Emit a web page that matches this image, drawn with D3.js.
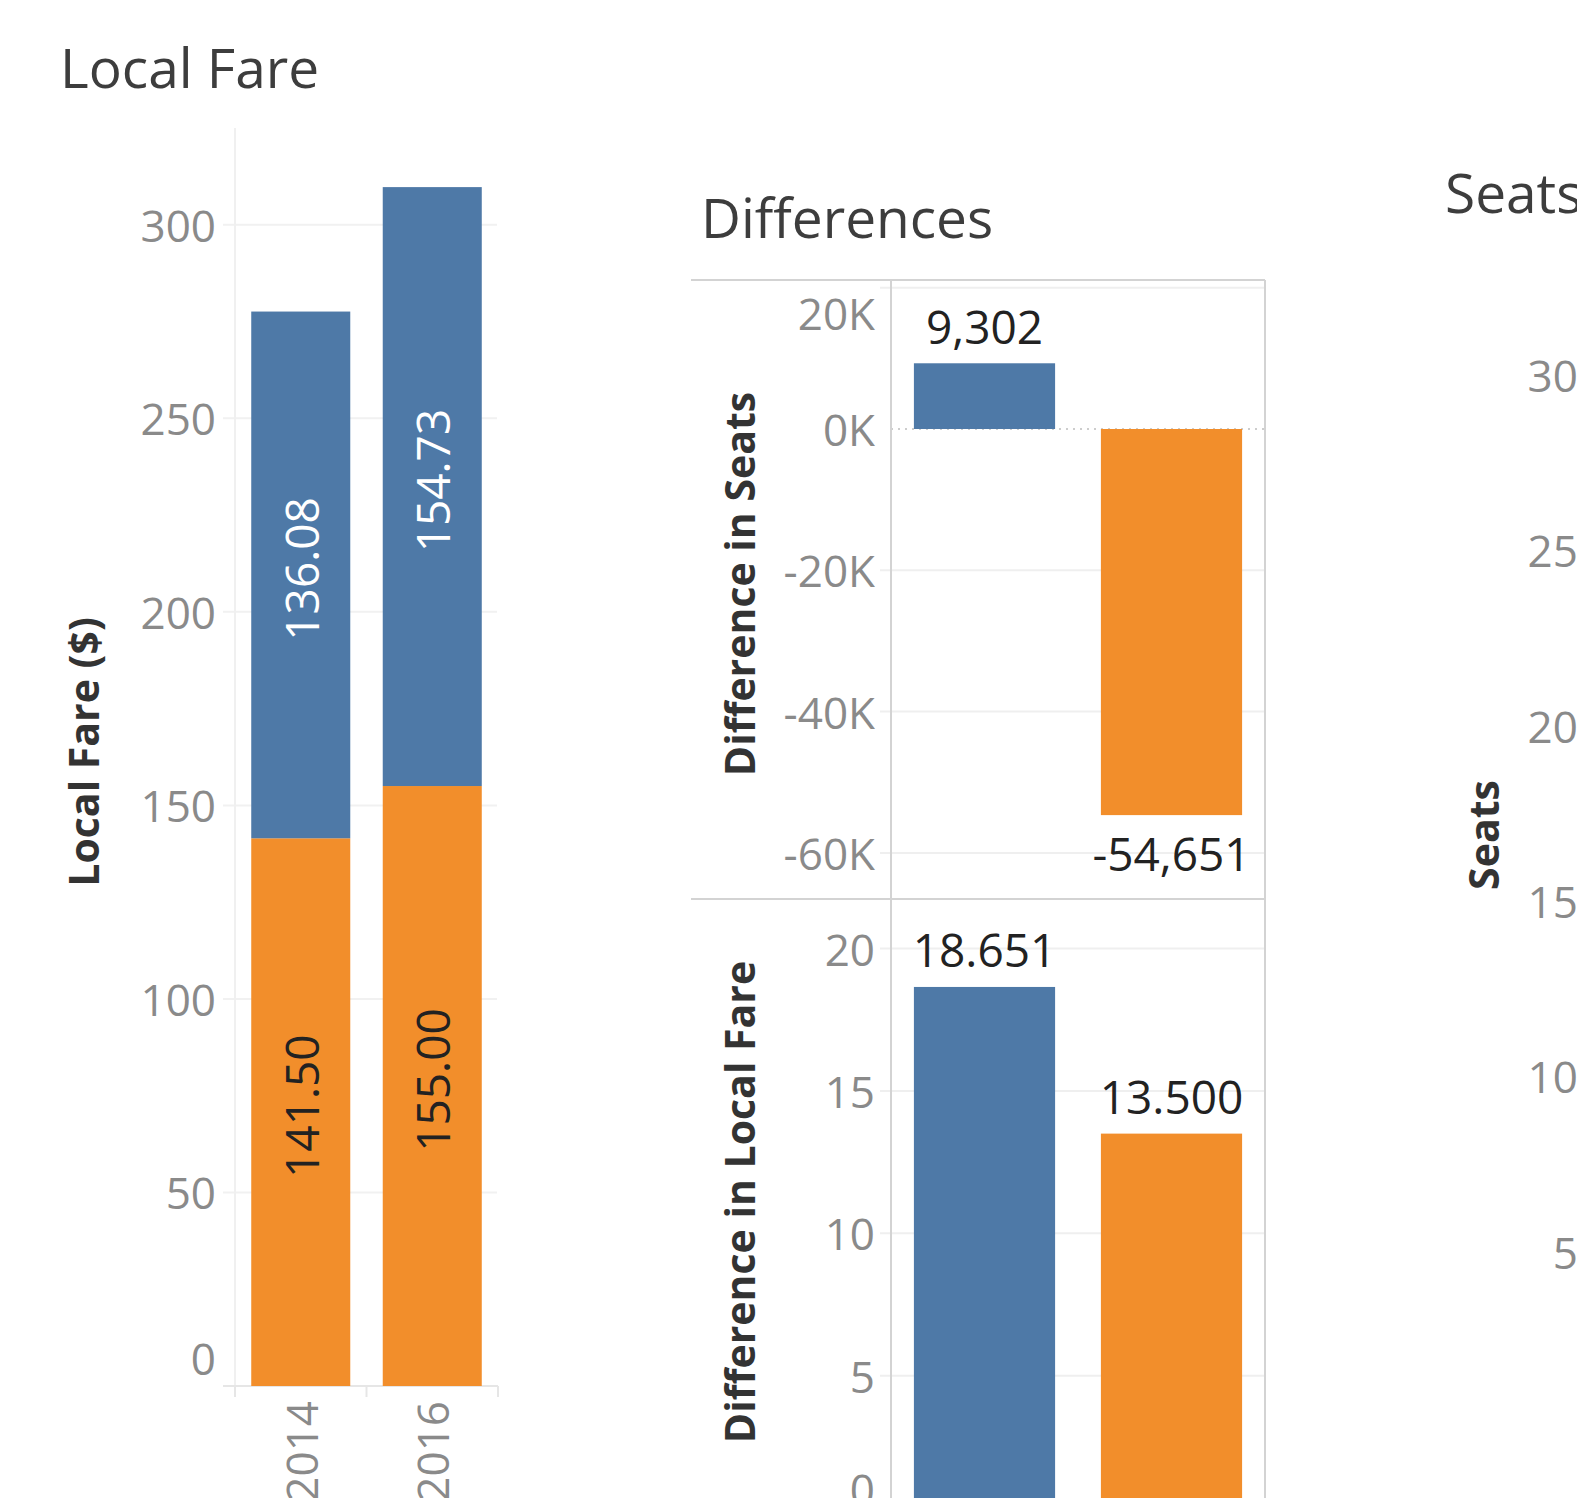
<!DOCTYPE html>
<html>
<head>
<meta charset="utf-8">
<script src="https://cdn.jsdelivr.net/npm/d3@7"></script>
<style>
  body { margin: 0; background: #fff; }
  svg { display: block; font-family: 'Open Sans', sans-serif; }
</style>
</head>
<body>
<div class="chart"></div>
<script>
// data
const years = ['2014', '2016']
const groups = ['orange', 'blue'] // stacked bottom -> top
const fareOrange = [141.5, 155.0]
const fareBlue = [136.08, 154.73]
const fareTicks = [0, 50, 100, 150, 200, 250, 300]

const diffGroups = ['blue', 'orange']
const seatDiff = [9302, -54651]
const fareDiff = [18.651, 13.5]
const seatDiffTicks = [20000, 0, -20000, -40000, -60000]
const fareDiffTicks = [0, 5, 10, 15, 20]

const seatTicks = [50, 100, 150, 200, 250, 300]

const colors = { blue: '#4e79a7', orange: '#f28e2b' }

const locale = d3.formatLocale({ decimal: '.', thousands: ',', grouping: [3], currency: ['$', ''], minus: '-' })
const fmtComma = locale.format(',')
const fmtK = d => locale.format('d')(d / 1000) + 'K'

const width = 1577
const height = 1498
const tickSize = 44
const labelSize = 46

const svg = d3
  .select('.chart')
  .append('svg')
  .attr('width', width)
  .attr('height', height)

const titleText = (x, y, t) =>
  svg
    .append('text')
    .attr('x', x)
    .attr('y', y)
    .attr('font-size', 55)
    .attr('fill', '#3d3d3d')
    .text(t)

const axisTitle = (x, y, t) =>
  svg
    .append('text')
    .attr('transform', `translate(${x},${y}) rotate(-90)`)
    .attr('text-anchor', 'middle')
    .attr('dominant-baseline', 'central')
    .attr('font-size', 41)
    .attr('font-weight', 'bold')
    .attr('fill', '#333')
    .text(t)

// tick labels, pulled inside the pane at its edges like tableau does
const tickLabels = (ticks, y, x, lo, hi, fmt) =>
  svg
    .append('g')
    .selectAll('text')
    .data(ticks)
    .enter()
    .append('text')
    .attr('x', x)
    .attr('y', d => Math.min(hi, Math.max(lo, y(d))))
    .attr('text-anchor', 'end')
    .attr('dominant-baseline', 'central')
    .attr('font-size', tickSize)
    .attr('fill', '#8a8a8a')
    .text(fmt)

const gridLines = (ticks, y, x0, x1, color) =>
  svg
    .append('g')
    .selectAll('line')
    .data(ticks)
    .enter()
    .append('line')
    .attr('x1', x0)
    .attr('x2', x1)
    .attr('y1', d => y(d))
    .attr('y2', d => y(d))
    .attr('stroke', color)
    .attr('stroke-width', 2)

// ---------------- Local Fare ----------------
titleText(60, 88, 'Local Fare')

const x1 = d3.scaleBand().domain(years).range([235, 498]).paddingInner(0.247).paddingOuter(0.1235)
const y1 = d3.scaleLinear().domain([0, 325]).range([1386, 128])

gridLines(fareTicks.filter(d => d > 0), y1, 223, 497, '#f1f1f1')

svg.append('line').attr('x1', 235).attr('x2', 235).attr('y1', 128).attr('y2', 1397)
  .attr('stroke', '#f0f0f0').attr('stroke-width', 2)
svg.append('line').attr('x1', 223).attr('x2', 498).attr('y1', y1(0)).attr('y2', y1(0))
  .attr('stroke', '#e6e6e6').attr('stroke-width', 2)
svg
  .append('g')
  .selectAll('line')
  .data([235, 366.5, 498])
  .enter()
  .append('line')
  .attr('x1', d => d)
  .attr('x2', d => d)
  .attr('y1', y1(0))
  .attr('y2', 1397)
  .attr('stroke', '#e6e6e6')
  .attr('stroke-width', 2)

tickLabels(fareTicks, y1, 216, 0, 1358, d => d)

const fareTable = years.map((yr, i) => ({ year: yr, orange: fareOrange[i], blue: fareBlue[i] }))
const stacked = d3.stack().keys(groups)(fareTable)

const layer = svg
  .append('g')
  .selectAll('g')
  .data(stacked)
  .enter()
  .append('g')
  .attr('fill', d => colors[d.key])

layer
  .selectAll('rect')
  .data(d => d)
  .enter()
  .append('rect')
  .attr('x', d => x1(d.data.year))
  .attr('width', x1.bandwidth())
  .attr('y', d => y1(d[1]))
  .attr('height', d => y1(d[0]) - y1(d[1]))

layer
  .selectAll('text')
  .data(d => d.map(v => ({ key: d.key, v })))
  .enter()
  .append('text')
  .attr('transform', d => {
    const cx = x1(d.v.data.year) + x1.bandwidth() / 2
    const cy = (y1(d.v[0]) + y1(d.v[1])) / 2 - 6
    return `translate(${cx},${cy}) rotate(-90)`
  })
  .attr('text-anchor', 'middle')
  .attr('dominant-baseline', 'central')
  .attr('font-size', labelSize)
  .attr('fill', d => (d.key === 'blue' ? '#fff' : '#222'))
  .text(d => d3.format('.2f')(d.v[1] - d.v[0]))

svg
  .append('g')
  .selectAll('text')
  .data(years)
  .enter()
  .append('text')
  .attr('transform', d => `translate(${x1(d) + x1.bandwidth() / 2},1401) rotate(-90)`)
  .attr('text-anchor', 'end')
  .attr('dominant-baseline', 'central')
  .attr('font-size', tickSize)
  .attr('fill', '#8a8a8a')
  .text(d => d)

axisTitle(83, 752, 'Local Fare ($)')

// ---------------- Differences ----------------
titleText(701, 238, 'Differences')

const x2 = d3.scaleBand().domain(diffGroups).range([891, 1265]).paddingInner(0.245).paddingOuter(0.1225)
const ySeat = d3.scaleLinear().domain([-66525, 21090]).range([899, 280])
const yFare = d3.scaleLinear().domain([0, 21.74]).range([1518, 899])

gridLines(seatDiffTicks.filter(d => d !== 0), ySeat, 880, 1264, '#efefef')
gridLines(fareDiffTicks, yFare, 880, 1264, '#efefef')

svg.append('line').attr('x1', 891).attr('x2', 1264).attr('y1', ySeat(0)).attr('y2', ySeat(0))
  .attr('stroke', '#bdbdbd').attr('stroke-width', 1.5).attr('stroke-dasharray', '2,5')

tickLabels(seatDiffTicks, ySeat, 875, 313, 1e4, fmtK)
tickLabels(fareDiffTicks, yFare, 875, 0, 1489, d => d)

const frame = svg.append('g').attr('stroke', '#d3d3d3').attr('stroke-width', 2)
frame.append('line').attr('x1', 691).attr('x2', 1265).attr('y1', 280).attr('y2', 280)
frame.append('line').attr('x1', 691).attr('x2', 1265).attr('y1', 899).attr('y2', 899)
frame.append('line').attr('x1', 891).attr('x2', 891).attr('y1', 280).attr('y2', height)
frame.append('line').attr('x1', 1265).attr('x2', 1265).attr('y1', 280).attr('y2', height)

const seatRows = diffGroups.map((g, i) => ({ g, v: seatDiff[i] }))
const fareRows = diffGroups.map((g, i) => ({ g, v: fareDiff[i] }))

svg
  .append('g')
  .selectAll('rect')
  .data(seatRows)
  .enter()
  .append('rect')
  .attr('x', d => x2(d.g))
  .attr('width', x2.bandwidth())
  .attr('y', d => ySeat(Math.max(0, d.v)))
  .attr('height', d => Math.abs(ySeat(d.v) - ySeat(0)))
  .attr('fill', d => colors[d.g])

svg
  .append('g')
  .selectAll('text')
  .data(seatRows)
  .enter()
  .append('text')
  .attr('x', d => x2(d.g) + x2.bandwidth() / 2)
  .attr('y', d => (d.v >= 0 ? ySeat(d.v) - 19 : ySeat(d.v) + 56))
  .attr('text-anchor', 'middle')
  .attr('font-size', labelSize)
  .attr('fill', '#222')
  .text(d => fmtComma(d.v))

svg
  .append('g')
  .selectAll('rect')
  .data(fareRows)
  .enter()
  .append('rect')
  .attr('x', d => x2(d.g))
  .attr('width', x2.bandwidth())
  .attr('y', d => yFare(d.v))
  .attr('height', d => yFare(0) - yFare(d.v))
  .attr('fill', d => colors[d.g])

svg
  .append('g')
  .selectAll('text')
  .data(fareRows)
  .enter()
  .append('text')
  .attr('x', d => x2(d.g) + x2.bandwidth() / 2)
  .attr('y', d => yFare(d.v) - 20)
  .attr('text-anchor', 'middle')
  .attr('font-size', labelSize)
  .attr('fill', '#222')
  .text(d => d3.format('.3f')(d.v))

axisTitle(739, 584, 'Difference in Seats')
axisTitle(739, 1202, 'Difference in Local Fare')

// ---------------- Seats (cut off at the right edge) ----------------
titleText(1445, 213, 'Seats')

const ySeats = d3.scaleLinear().domain([0, 300]).range([1427, 375])
tickLabels(seatTicks, ySeats, 1603, 0, 1e4, d => d)
axisTitle(1483, 835, 'Seats')
</script>
</body>
</html>
